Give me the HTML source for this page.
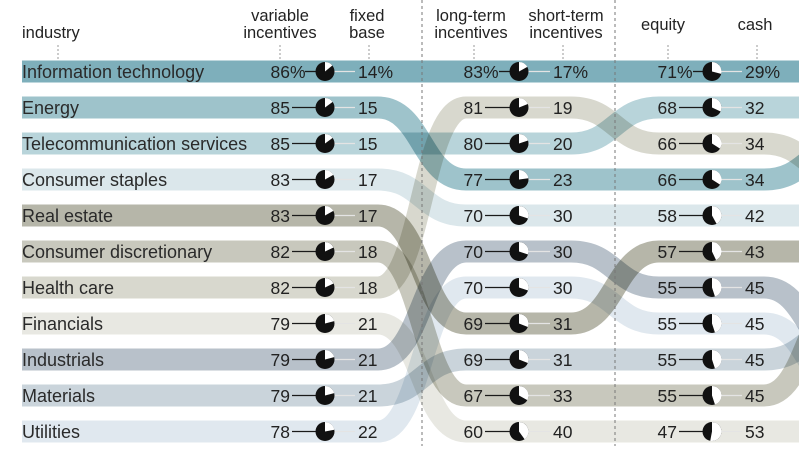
<!DOCTYPE html>
<html>
<head>
<meta charset="utf-8">
<style>
  html, body { margin:0; padding:0; background:#fff; }
  svg { display:block; }
  .band { fill:none; stroke-width:22; mix-blend-mode:multiply; }
  .hdr { font-family:"Liberation Sans", "DejaVu Sans", sans-serif; font-size:16.5px; fill:#222; }
  .lab { font-family:"Liberation Sans", sans-serif; font-size:18px; fill:#2a2a2a; }
  .num { font-family:"Liberation Sans", sans-serif; font-size:17.5px; fill:#222; }
  .bl { stroke:#1a1a1a; stroke-width:1.3; }
  .gl { stroke:#e4e4e4; stroke-width:1.3; }
  .tick { stroke:#999; stroke-width:1; stroke-dasharray:2 2; }
  .sep { stroke:#777; stroke-width:1; stroke-dasharray:3 3; }
</style>
</head>
<body>
<svg width="800" height="465" viewBox="0 0 800 465" xmlns="http://www.w3.org/2000/svg">
  <defs>
    <clipPath id="c"><rect x="0" y="0" width="799" height="465"/></clipPath>
  </defs>

  <g clip-path="url(#c)" style="isolation:isolate">
    <!-- bands -->
    <path class="band" stroke="#e8e8e2" d="M22,323.5 H378 C422,323.5 422,431.5 466,431.5 H571 C615,431.5 615,431.5 659,431.5 H764 C808,431.5 808,431.5 852,431.5"/>
    <path class="band" stroke="#e0e8ef" d="M22,431.5 H378 C422,431.5 422,287.5 466,287.5 H571 C615,287.5 615,323.5 659,323.5 H764 C808,323.5 808,395.5 852,395.5"/>
    <path class="band" stroke="#dbe7eb" d="M22,179.5 H378 C422,179.5 422,215.5 466,215.5 H571 C615,215.5 615,215.5 659,215.5 H764 C808,215.5 808,215.5 852,215.5"/>
    <path class="band" stroke="#d8d8ce" d="M22,287.5 H378 C422,287.5 422,107.5 466,107.5 H571 C615,107.5 615,143.5 659,143.5 H764 C808,143.5 808,179.5 852,179.5"/>
    <path class="band" stroke="#cad4db" d="M22,395.5 H378 C422,395.5 422,359.5 466,359.5 H571 C615,359.5 615,359.5 659,359.5 H764 C808,359.5 808,323.5 852,323.5"/>
    <path class="band" stroke="#c8c8bd" d="M22,251.5 H378 C422,251.5 422,395.5 466,395.5 H571 C615,395.5 615,395.5 659,395.5 H764 C808,395.5 808,287.5 852,287.5"/>
    <path class="band" stroke="#b8c1ca" d="M22,359.5 H378 C422,359.5 422,251.5 466,251.5 H571 C615,251.5 615,287.5 659,287.5 H764 C808,287.5 808,359.5 852,359.5"/>
    <path class="band" stroke="#b6b6a9" d="M22,215.5 H378 C422,215.5 422,323.5 466,323.5 H571 C615,323.5 615,251.5 659,251.5 H764 C808,251.5 808,251.5 852,251.5"/>
    <path class="band" stroke="#b8d4da" d="M22,143.5 H378 C422,143.5 422,143.5 466,143.5 H571 C615,143.5 615,107.5 659,107.5 H764 C808,107.5 808,107.5 852,107.5"/>
    <path class="band" stroke="#9ec3cb" d="M22,107.5 H378 C422,107.5 422,179.5 466,179.5 H571 C615,179.5 615,179.5 659,179.5 H764 C808,179.5 808,143.5 852,143.5"/>
    <path class="band" stroke="#7eafbb" d="M22,71.5 H852"/>
  </g>

  <!-- separators -->
  <line class="sep" x1="422" y1="0" x2="422" y2="446"/>
  <line class="sep" x1="615" y1="0" x2="615" y2="446"/>

  <!-- headers -->
  <text class="hdr" x="22" y="38">industry</text>
  <text class="hdr" x="280" y="21" text-anchor="middle">variable</text>
  <text class="hdr" x="280" y="38" text-anchor="middle">incentives</text>
  <text class="hdr" x="367" y="21" text-anchor="middle">fixed</text>
  <text class="hdr" x="367" y="38" text-anchor="middle">base</text>
  <text class="hdr" x="471" y="21" text-anchor="middle">long-term</text>
  <text class="hdr" x="471" y="38" text-anchor="middle">incentives</text>
  <text class="hdr" x="566" y="21" text-anchor="middle">short-term</text>
  <text class="hdr" x="566" y="38" text-anchor="middle">incentives</text>
  <text class="hdr" x="663" y="30" text-anchor="middle">equity</text>
  <text class="hdr" x="755" y="30" text-anchor="middle">cash</text>

  <line class="tick" x1="58" y1="45" x2="58" y2="60"/>
  <line class="tick" x1="280" y1="45" x2="280" y2="60"/>
  <line class="tick" x1="369" y1="45" x2="369" y2="60"/>
  <line class="tick" x1="474" y1="45" x2="474" y2="60"/>
  <line class="tick" x1="563" y1="45" x2="563" y2="60"/>
  <line class="tick" x1="668" y1="45" x2="668" y2="60"/>
  <line class="tick" x1="757" y1="45" x2="757" y2="60"/>

  <!-- industry labels -->
  <text class="lab" x="22" y="78">Information technology</text>
  <text class="lab" x="22" y="114">Energy</text>
  <text class="lab" x="22" y="150">Telecommunication services</text>
  <text class="lab" x="22" y="186">Consumer staples</text>
  <text class="lab" x="22" y="222">Real estate</text>
  <text class="lab" x="22" y="258">Consumer discretionary</text>
  <text class="lab" x="22" y="294">Health care</text>
  <text class="lab" x="22" y="330">Financials</text>
  <text class="lab" x="22" y="366">Industrials</text>
  <text class="lab" x="22" y="402">Materials</text>
  <text class="lab" x="22" y="438">Utilities</text>

  <!-- ===== Section 1 numbers ===== -->
  <g class="num">
    <text x="290" y="78" text-anchor="end">86</text><text x="290" y="78">%</text>
    <text x="290" y="114" text-anchor="end">85</text>
    <text x="290" y="150" text-anchor="end">85</text>
    <text x="290" y="186" text-anchor="end">83</text>
    <text x="290" y="222" text-anchor="end">83</text>
    <text x="290" y="258" text-anchor="end">82</text>
    <text x="290" y="294" text-anchor="end">82</text>
    <text x="290" y="330" text-anchor="end">79</text>
    <text x="290" y="366" text-anchor="end">79</text>
    <text x="290" y="402" text-anchor="end">79</text>
    <text x="290" y="438" text-anchor="end">78</text>

    <text x="358" y="78">14%</text>
    <text x="358" y="114">15</text>
    <text x="358" y="150">15</text>
    <text x="358" y="186">17</text>
    <text x="358" y="222">17</text>
    <text x="358" y="258">18</text>
    <text x="358" y="294">18</text>
    <text x="358" y="330">21</text>
    <text x="358" y="366">21</text>
    <text x="358" y="402">21</text>
    <text x="358" y="438">22</text>
  </g>
  <g>
    <line class="bl" x1="305" y1="71.5" x2="316" y2="71.5"/>
    <line class="bl" x1="292" y1="107.5" x2="316" y2="107.5"/>
    <line class="bl" x1="292" y1="143.5" x2="316" y2="143.5"/>
    <line class="bl" x1="292" y1="179.5" x2="316" y2="179.5"/>
    <line class="bl" x1="292" y1="215.5" x2="316" y2="215.5"/>
    <line class="bl" x1="292" y1="251.5" x2="316" y2="251.5"/>
    <line class="bl" x1="292" y1="287.5" x2="316" y2="287.5"/>
    <line class="bl" x1="292" y1="323.5" x2="316" y2="323.5"/>
    <line class="bl" x1="292" y1="359.5" x2="316" y2="359.5"/>
    <line class="bl" x1="292" y1="395.5" x2="316" y2="395.5"/>
    <line class="bl" x1="292" y1="431.5" x2="316" y2="431.5"/>
    <line class="gl" x1="334" y1="71.5" x2="355" y2="71.5"/>
    <line class="gl" x1="334" y1="107.5" x2="355" y2="107.5"/>
    <line class="gl" x1="334" y1="143.5" x2="355" y2="143.5"/>
    <line class="gl" x1="334" y1="179.5" x2="355" y2="179.5"/>
    <line class="gl" x1="334" y1="215.5" x2="355" y2="215.5"/>
    <line class="gl" x1="334" y1="251.5" x2="355" y2="251.5"/>
    <line class="gl" x1="334" y1="287.5" x2="355" y2="287.5"/>
    <line class="gl" x1="334" y1="323.5" x2="355" y2="323.5"/>
    <line class="gl" x1="334" y1="359.5" x2="355" y2="359.5"/>
    <line class="gl" x1="334" y1="395.5" x2="355" y2="395.5"/>
    <line class="gl" x1="334" y1="431.5" x2="355" y2="431.5"/>
  </g>
  <!-- pies section 1 -->
  <g transform="translate(325,71.5)"><circle r="9.5" fill="#111"/><path d="M0,0 V-9.5 A9.5,9.5 0 0,1 7.32,-6.06 Z" fill="#fff"/></g>
  <g transform="translate(325,107.5)"><circle r="9.5" fill="#111"/><path d="M0,0 V-9.5 A9.5,9.5 0 0,1 7.69,-5.58 Z" fill="#fff"/></g>
  <g transform="translate(325,143.5)"><circle r="9.5" fill="#111"/><path d="M0,0 V-9.5 A9.5,9.5 0 0,1 7.69,-5.58 Z" fill="#fff"/></g>
  <g transform="translate(325,179.5)"><circle r="9.5" fill="#111"/><path d="M0,0 V-9.5 A9.5,9.5 0 0,1 8.32,-4.58 Z" fill="#fff"/></g>
  <g transform="translate(325,215.5)"><circle r="9.5" fill="#111"/><path d="M0,0 V-9.5 A9.5,9.5 0 0,1 8.32,-4.58 Z" fill="#fff"/></g>
  <g transform="translate(325,251.5)"><circle r="9.5" fill="#111"/><path d="M0,0 V-9.5 A9.5,9.5 0 0,1 8.60,-4.05 Z" fill="#fff"/></g>
  <g transform="translate(325,287.5)"><circle r="9.5" fill="#111"/><path d="M0,0 V-9.5 A9.5,9.5 0 0,1 8.60,-4.05 Z" fill="#fff"/></g>
  <g transform="translate(325,323.5)"><circle r="9.5" fill="#111"/><path d="M0,0 V-9.5 A9.5,9.5 0 0,1 9.20,-2.36 Z" fill="#fff"/></g>
  <g transform="translate(325,359.5)"><circle r="9.5" fill="#111"/><path d="M0,0 V-9.5 A9.5,9.5 0 0,1 9.20,-2.36 Z" fill="#fff"/></g>
  <g transform="translate(325,395.5)"><circle r="9.5" fill="#111"/><path d="M0,0 V-9.5 A9.5,9.5 0 0,1 9.20,-2.36 Z" fill="#fff"/></g>
  <g transform="translate(325,431.5)"><circle r="9.5" fill="#111"/><path d="M0,0 V-9.5 A9.5,9.5 0 0,1 9.33,-1.78 Z" fill="#fff"/></g>

  <!-- ===== Section 2 ===== -->
  <g class="num">
    <text x="483" y="78" text-anchor="end">83</text><text x="483" y="78">%</text>
    <text x="483" y="114" text-anchor="end">81</text>
    <text x="483" y="150" text-anchor="end">80</text>
    <text x="483" y="186" text-anchor="end">77</text>
    <text x="483" y="222" text-anchor="end">70</text>
    <text x="483" y="258" text-anchor="end">70</text>
    <text x="483" y="294" text-anchor="end">70</text>
    <text x="483" y="330" text-anchor="end">69</text>
    <text x="483" y="366" text-anchor="end">69</text>
    <text x="483" y="402" text-anchor="end">67</text>
    <text x="483" y="438" text-anchor="end">60</text>

    <text x="553" y="78">17%</text>
    <text x="553" y="114">19</text>
    <text x="553" y="150">20</text>
    <text x="553" y="186">23</text>
    <text x="553" y="222">30</text>
    <text x="553" y="258">30</text>
    <text x="553" y="294">30</text>
    <text x="553" y="330">31</text>
    <text x="553" y="366">31</text>
    <text x="553" y="402">33</text>
    <text x="553" y="438">40</text>
  </g>
  <g>
    <line class="bl" x1="499" y1="71.5" x2="510" y2="71.5"/>
    <line class="bl" x1="485" y1="107.5" x2="510" y2="107.5"/>
    <line class="bl" x1="485" y1="143.5" x2="510" y2="143.5"/>
    <line class="bl" x1="485" y1="179.5" x2="510" y2="179.5"/>
    <line class="bl" x1="485" y1="215.5" x2="510" y2="215.5"/>
    <line class="bl" x1="485" y1="251.5" x2="510" y2="251.5"/>
    <line class="bl" x1="485" y1="287.5" x2="510" y2="287.5"/>
    <line class="bl" x1="485" y1="323.5" x2="510" y2="323.5"/>
    <line class="bl" x1="485" y1="359.5" x2="510" y2="359.5"/>
    <line class="bl" x1="485" y1="395.5" x2="510" y2="395.5"/>
    <line class="bl" x1="485" y1="431.5" x2="510" y2="431.5"/>
    <line class="gl" x1="528" y1="71.5" x2="550" y2="71.5"/>
    <line class="gl" x1="528" y1="107.5" x2="550" y2="107.5"/>
    <line class="gl" x1="528" y1="143.5" x2="550" y2="143.5"/>
    <line class="gl" x1="528" y1="179.5" x2="550" y2="179.5"/>
    <line class="gl" x1="528" y1="215.5" x2="550" y2="215.5"/>
    <line class="gl" x1="528" y1="251.5" x2="550" y2="251.5"/>
    <line class="gl" x1="528" y1="287.5" x2="550" y2="287.5"/>
    <line class="gl" x1="528" y1="323.5" x2="550" y2="323.5"/>
    <line class="gl" x1="528" y1="359.5" x2="550" y2="359.5"/>
    <line class="gl" x1="528" y1="395.5" x2="550" y2="395.5"/>
    <line class="gl" x1="528" y1="431.5" x2="550" y2="431.5"/>
  </g>
  <g transform="translate(519,71.5)"><circle r="9.5" fill="#111"/><path d="M0,0 V-9.5 A9.5,9.5 0 0,1 8.32,-4.58 Z" fill="#fff"/></g>
  <g transform="translate(519,107.5)"><circle r="9.5" fill="#111"/><path d="M0,0 V-9.5 A9.5,9.5 0 0,1 8.83,-3.50 Z" fill="#fff"/></g>
  <g transform="translate(519,143.5)"><circle r="9.5" fill="#111"/><path d="M0,0 V-9.5 A9.5,9.5 0 0,1 9.04,-2.94 Z" fill="#fff"/></g>
  <g transform="translate(519,179.5)"><circle r="9.5" fill="#111"/><path d="M0,0 V-9.5 A9.5,9.5 0 0,1 9.42,-1.19 Z" fill="#fff"/></g>
  <g transform="translate(519,215.5)"><circle r="9.5" fill="#111"/><path d="M0,0 V-9.5 A9.5,9.5 0 0,1 9.04,2.94 Z" fill="#fff"/></g>
  <g transform="translate(519,251.5)"><circle r="9.5" fill="#111"/><path d="M0,0 V-9.5 A9.5,9.5 0 0,1 9.04,2.94 Z" fill="#fff"/></g>
  <g transform="translate(519,287.5)"><circle r="9.5" fill="#111"/><path d="M0,0 V-9.5 A9.5,9.5 0 0,1 9.04,2.94 Z" fill="#fff"/></g>
  <g transform="translate(519,323.5)"><circle r="9.5" fill="#111"/><path d="M0,0 V-9.5 A9.5,9.5 0 0,1 8.83,3.50 Z" fill="#fff"/></g>
  <g transform="translate(519,359.5)"><circle r="9.5" fill="#111"/><path d="M0,0 V-9.5 A9.5,9.5 0 0,1 8.83,3.50 Z" fill="#fff"/></g>
  <g transform="translate(519,395.5)"><circle r="9.5" fill="#111"/><path d="M0,0 V-9.5 A9.5,9.5 0 0,1 8.32,4.58 Z" fill="#fff"/></g>
  <g transform="translate(519,431.5)"><circle r="9.5" fill="#111"/><path d="M0,0 V-9.5 A9.5,9.5 0 0,1 5.58,7.69 Z" fill="#fff"/></g>

  <!-- ===== Section 3 ===== -->
  <g class="num">
    <text x="677" y="78" text-anchor="end">71</text><text x="677" y="78">%</text>
    <text x="677" y="114" text-anchor="end">68</text>
    <text x="677" y="150" text-anchor="end">66</text>
    <text x="677" y="186" text-anchor="end">66</text>
    <text x="677" y="222" text-anchor="end">58</text>
    <text x="677" y="258" text-anchor="end">57</text>
    <text x="677" y="294" text-anchor="end">55</text>
    <text x="677" y="330" text-anchor="end">55</text>
    <text x="677" y="366" text-anchor="end">55</text>
    <text x="677" y="402" text-anchor="end">55</text>
    <text x="677" y="438" text-anchor="end">47</text>

    <text x="745" y="78">29%</text>
    <text x="745" y="114">32</text>
    <text x="745" y="150">34</text>
    <text x="745" y="186">34</text>
    <text x="745" y="222">42</text>
    <text x="745" y="258">43</text>
    <text x="745" y="294">45</text>
    <text x="745" y="330">45</text>
    <text x="745" y="366">45</text>
    <text x="745" y="402">45</text>
    <text x="745" y="438">53</text>
  </g>
  <g>
    <line class="bl" x1="693" y1="71.5" x2="703" y2="71.5"/>
    <line class="bl" x1="679" y1="107.5" x2="703" y2="107.5"/>
    <line class="bl" x1="679" y1="143.5" x2="703" y2="143.5"/>
    <line class="bl" x1="679" y1="179.5" x2="703" y2="179.5"/>
    <line class="bl" x1="679" y1="215.5" x2="703" y2="215.5"/>
    <line class="bl" x1="679" y1="251.5" x2="703" y2="251.5"/>
    <line class="bl" x1="679" y1="287.5" x2="703" y2="287.5"/>
    <line class="bl" x1="679" y1="323.5" x2="703" y2="323.5"/>
    <line class="bl" x1="679" y1="359.5" x2="703" y2="359.5"/>
    <line class="bl" x1="679" y1="395.5" x2="703" y2="395.5"/>
    <line class="bl" x1="679" y1="431.5" x2="703" y2="431.5"/>
    <line class="gl" x1="721" y1="71.5" x2="742" y2="71.5"/>
    <line class="gl" x1="721" y1="107.5" x2="742" y2="107.5"/>
    <line class="gl" x1="721" y1="143.5" x2="742" y2="143.5"/>
    <line class="gl" x1="721" y1="179.5" x2="742" y2="179.5"/>
    <line class="gl" x1="721" y1="215.5" x2="742" y2="215.5"/>
    <line class="gl" x1="721" y1="251.5" x2="742" y2="251.5"/>
    <line class="gl" x1="721" y1="287.5" x2="742" y2="287.5"/>
    <line class="gl" x1="721" y1="323.5" x2="742" y2="323.5"/>
    <line class="gl" x1="721" y1="359.5" x2="742" y2="359.5"/>
    <line class="gl" x1="721" y1="395.5" x2="742" y2="395.5"/>
    <line class="gl" x1="721" y1="431.5" x2="742" y2="431.5"/>
  </g>
  <g transform="translate(712,71.5)"><circle r="9.5" fill="#111"/><path d="M0,0 V-9.5 A9.5,9.5 0 0,1 9.20,2.36 Z" fill="#fff"/></g>
  <g transform="translate(712,107.5)"><circle r="9.5" fill="#111"/><path d="M0,0 V-9.5 A9.5,9.5 0 0,1 8.60,4.05 Z" fill="#fff"/></g>
  <g transform="translate(712,143.5)"><circle r="9.5" fill="#111"/><path d="M0,0 V-9.5 A9.5,9.5 0 0,1 8.02,5.09 Z" fill="#fff"/></g>
  <g transform="translate(712,179.5)"><circle r="9.5" fill="#111"/><path d="M0,0 V-9.5 A9.5,9.5 0 0,1 8.02,5.09 Z" fill="#fff"/></g>
  <g transform="translate(712,215.5)"><circle r="9.5" fill="#111"/><path d="M0,0 V-9.5 A9.5,9.5 0 0,1 4.58,8.32 Z" fill="#fff"/></g>
  <g transform="translate(712,251.5)"><circle r="9.5" fill="#111"/><path d="M0,0 V-9.5 A9.5,9.5 0 0,1 4.05,8.60 Z" fill="#fff"/></g>
  <g transform="translate(712,287.5)"><circle r="9.5" fill="#111"/><path d="M0,0 V-9.5 A9.5,9.5 0 0,1 2.94,9.04 Z" fill="#fff"/></g>
  <g transform="translate(712,323.5)"><circle r="9.5" fill="#111"/><path d="M0,0 V-9.5 A9.5,9.5 0 0,1 2.94,9.04 Z" fill="#fff"/></g>
  <g transform="translate(712,359.5)"><circle r="9.5" fill="#111"/><path d="M0,0 V-9.5 A9.5,9.5 0 0,1 2.94,9.04 Z" fill="#fff"/></g>
  <g transform="translate(712,395.5)"><circle r="9.5" fill="#111"/><path d="M0,0 V-9.5 A9.5,9.5 0 0,1 2.94,9.04 Z" fill="#fff"/></g>
  <g transform="translate(712,431.5)"><circle r="9.5" fill="#111"/><path d="M0,0 V-9.5 A9.5,9.5 0 1,1 -1.78,9.33 Z" fill="#fff"/></g>
</svg>
</body>
</html>
